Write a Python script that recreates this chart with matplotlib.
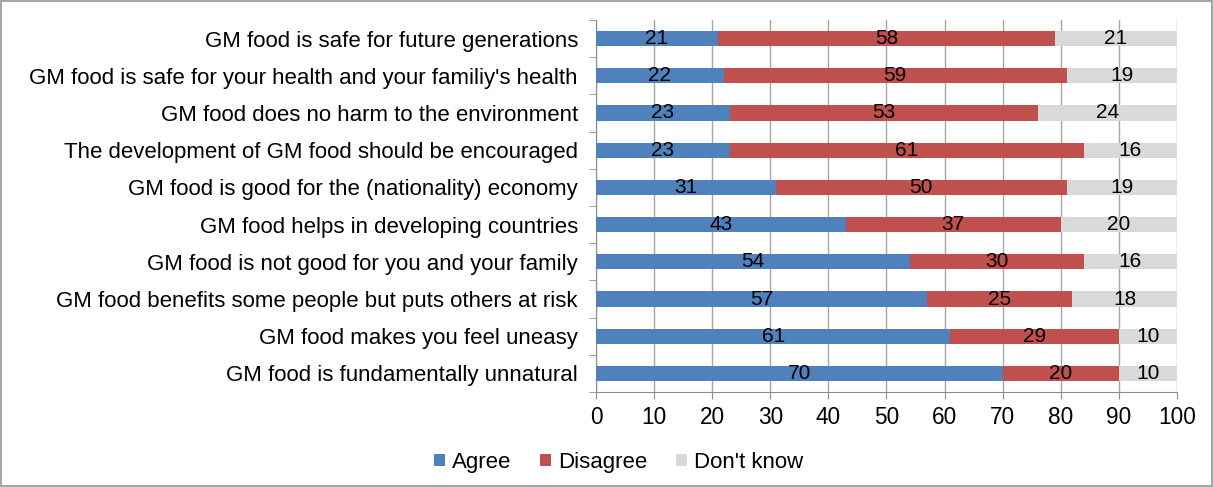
import matplotlib
matplotlib.use("Agg")
import matplotlib.pyplot as plt
import numpy as np

statements = [
    "GM food is safe for future generations",
    "GM food is safe for your health and your familiy's health",
    "GM food does no harm to the environment",
    "The development of GM food should be encouraged",
    "GM food is good for the (nationality) economy",
    "GM food helps in developing countries",
    "GM food is not good for you and your family",
    "GM food benefits some people but puts others at risk",
    "GM food makes you feel uneasy",
    "GM food is fundamentally unnatural",
]
agree = [21, 22, 23, 23, 31, 43, 54, 57, 61, 70]
disagree = [58, 59, 53, 61, 50, 37, 30, 25, 29, 20]
dont_know = [21, 19, 24, 16, 19, 20, 16, 18, 10, 10]

plt.rcParams['font.family'] = ['Liberation Sans', 'DejaVu Sans']

fig = plt.figure(figsize=(12.13, 4.87), dpi=100)
fig.patch.set_edgecolor('#a6a6a6')
fig.patch.set_linewidth(1.5)
ax = fig.add_axes([0.4913, 0.195, 0.4790, 0.764])

y = np.arange(len(statements))
h = 0.41
series = [("Agree", agree, "#4f81bd"), ("Disagree", disagree, "#c0504d"),
          ("Don't know", dont_know, "#d9d9d9")]
left = np.zeros(len(statements))
for name, vals, col in series:
    vals = np.array(vals)
    bars = ax.barh(y, vals, height=h, left=left, color=col, label=name, zorder=3)
    ax.bar_label(bars, labels=[str(v) for v in vals], label_type='center',
                 fontsize=15, color='black')
    left += vals

ax.set_ylim(len(statements) - 0.5, -0.5)
ax.set_xlim(0, 100)
ax.set_xticks(range(0, 101, 10))
ax.set_yticks(y)
ax.set_yticklabels(statements, fontsize=16)
ax.set_yticks(np.arange(-0.5, len(statements)), minor=True)
ax.tick_params(axis='y', which='major', length=0, pad=13)
ax.tick_params(axis='y', which='minor', length=5, color='#8c8c8c', direction='out')
ax.tick_params(axis='x', length=5, color='#8c8c8c', labelsize=16.3, pad=5)
ax.grid(axis='x', color='#a6a6a6', linewidth=1, zorder=0)
for s in ['top', 'right']:
    ax.spines[s].set_visible(False)
for s in ['left', 'bottom']:
    ax.spines[s].set_color('#8c8c8c')

fig.legend(loc='lower center', bbox_to_anchor=(0.51, -0.012), ncol=3, frameon=False,
           fontsize=16, handlelength=0.5, handleheight=0.5, handletextpad=0.3,
           columnspacing=1.3)

fig.savefig("out.png", dpi=100)
